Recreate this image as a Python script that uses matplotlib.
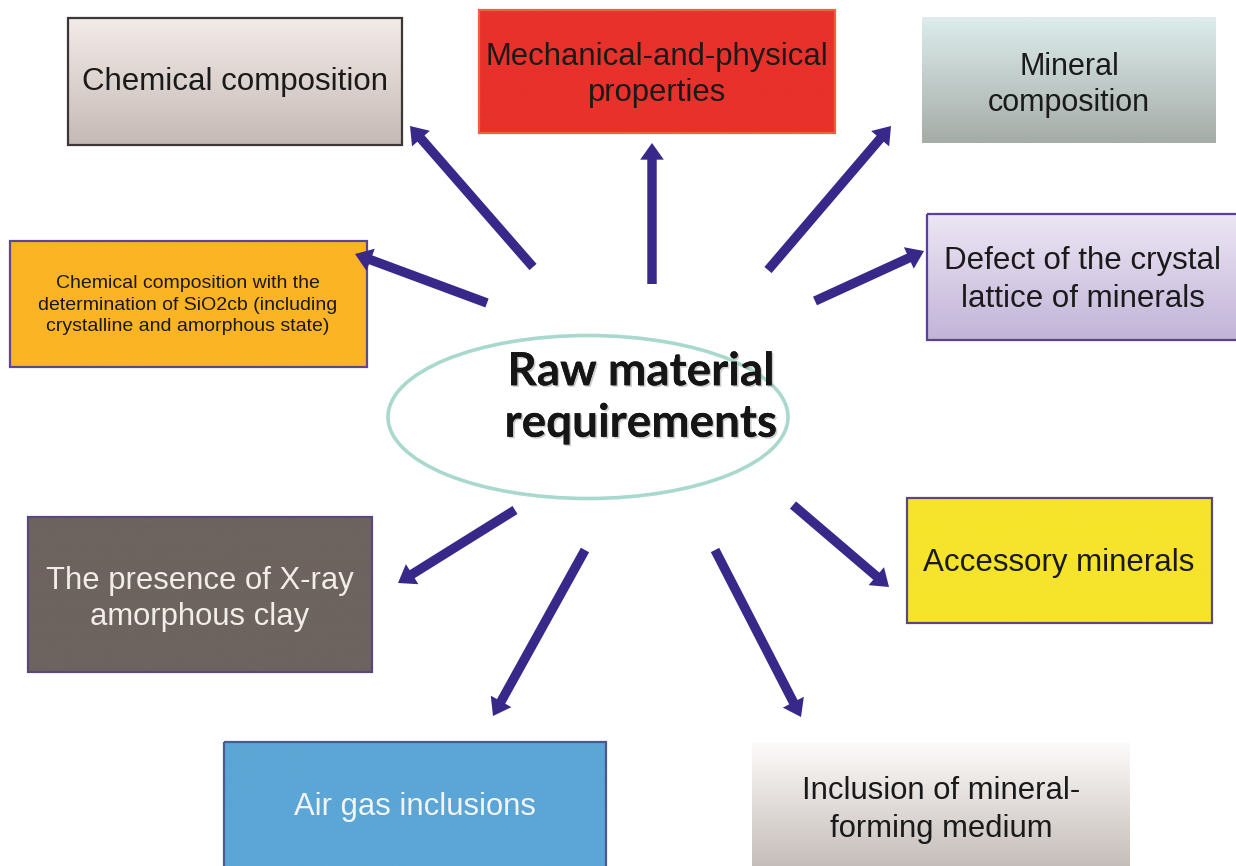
import matplotlib
matplotlib.use("Agg")
import matplotlib.pyplot as plt
import numpy as np
from matplotlib.patches import Rectangle, Ellipse, FancyArrowPatch
from matplotlib.colors import to_rgb
import matplotlib.patheffects as pe

# ---- content ----
center_label = "Raw material\nrequirements"
box_labels = [
    "Chemical composition",
    "Mechanical-and-physical\nproperties",
    "Mineral\ncomposition",
    "Chemical composition with the\ndetermination of SiO2cb (including\ncrystalline and amorphous state)",
    "Defect of the crystal\nlattice of minerals",
    "The presence of X-ray\namorphous clay",
    "Accessory minerals",
    "Air gas inclusions",
    "Inclusion of mineral-\nforming medium",
]

# ---- layout (pixel coordinates: x0, y0, x1, y1) ----
box_rects = [
    (68, 18, 402, 145),
    (479, 10, 835, 133),
    (922, 17, 1216, 143),
    (10, 241, 367, 367),
    (927, 214, 1240, 340),
    (28, 517, 372, 672),
    (907, 498, 1212, 623),
    (224, 742, 606, 870),
    (752, 742, 1130, 870),
]
box_top = ["#f3ebe8", "#e8312b", "#dcedec", "#fbb424", "#ece6f4", "#6d635f", "#f6e42b", "#5ba6d6", "#fdfbfa"]
box_bot = ["#c6bab6", "#e8312b", "#a6aca8", "#fbb424", "#c2b4d8", "#6d635f", "#f6e42b", "#5ba6d6", "#c4bcb8"]
box_edge = ["#3c3636", "#f06040", None, "#5a4a8c", "#5b3f9a", "#5a4a7c", "#5a4a7c", "#4a5a90", None]
text_col = ["#1a1a1a", "#1a1a1a", "#1a1a1a", "#1a1a1a", "#1a1a1a", "#f2ede8", "#1a1a1a", "#f4f4f4", "#1a1a1a"]
text_size = [22.5, 22.3, 22, 14, 22.5, 22.3, 22.5, 22.3, 22.3]
text_y = [82, 75, 85, 305, 280, 599, 563, 807, 810]
text_x = [235, 657, 1069, 188, 1083, 200, 1059, 415, 941]
text_ls = [1.3, 1.28, 1.28, 1.38, 1.32, 1.3, 1.3, 1.3, 1.32]

arrows = [  # tail (x,y) -> head (x,y)
    ((533, 267), (410, 126)),
    ((652, 284), (652, 143)),
    ((768, 270), (891, 126)),
    ((815, 301), (924, 251)),
    ((487, 303), (355, 254)),
    ((515, 510), (398, 583)),
    ((585, 550), (493, 716)),
    ((715, 550), (801, 717)),
    ((793, 505), (889, 587)),
]

W, H = 1236, 866
fig = plt.figure(figsize=(W / 100, H / 100), dpi=100)
ax = fig.add_axes([0, 0, 1, 1])
ax.set_xlim(0, W)
ax.set_ylim(H, 0)
ax.axis("off")

for i, (x0, y0, x1, y1) in enumerate(box_rects):
    c1 = np.array(to_rgb(box_top[i]))
    c2 = np.array(to_rgb(box_bot[i]))
    t = np.linspace(0, 1, 64)[:, None, None]
    grad = c1 * (1 - t) + c2 * t
    ax.imshow(grad, extent=(x0, x1, y1, y0), aspect="auto", zorder=1, interpolation="bilinear")
    if box_edge[i] is not None:
        ax.add_patch(Rectangle((x0, y0), x1 - x0, y1 - y0, fill=False,
                               edgecolor=box_edge[i], lw=1.6, zorder=2))
    ax.text(text_x[i], text_y[i], box_labels[i], ha="center", va="center",
            fontsize=text_size[i], color=text_col[i], family="Liberation Sans",
            linespacing=text_ls[i], zorder=3)

ax.add_patch(Ellipse((588, 417), 400, 163, facecolor="white", edgecolor="#a9d8cd", lw=2.6, zorder=2))
ax.text(641, 398, center_label, ha="center", va="center", fontsize=33, fontweight="bold",
        family="Lato", color="#151515", linespacing=1.28, zorder=4,
        path_effects=[pe.withSimplePatchShadow(offset=(1.2, -1.2), shadow_rgbFace="#999999", alpha=0.5), pe.Normal()])

for (tx, ty), (hx, hy) in arrows:
    ap = FancyArrowPatch((tx, ty), (hx, hy),
                         arrowstyle="simple,head_length=1.2,head_width=1.7,tail_width=0.68",
                         mutation_scale=10, color="#37288a", lw=0, zorder=5,
                         shrinkA=0, shrinkB=0)
    ax.add_patch(ap)

fig.savefig("out.png", dpi=100, facecolor="white")
